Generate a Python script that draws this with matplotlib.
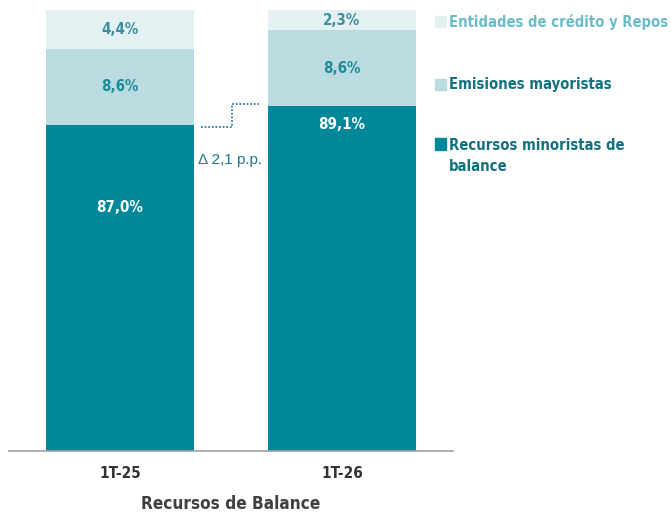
import matplotlib
matplotlib.use("Agg")
import matplotlib.pyplot as plt

# Datos
periodos = ["1T-25", "1T-26"]
minoristas = [87.0, 89.1]
emisiones = [8.6, 8.6]
entidades = [4.4, 2.3]
series_nombres = ["Entidades de crédito y Repos", "Emisiones mayoristas",
                  "Recursos minoristas de\nbalance"]
delta_txt = "\u0394 2,1 p.p."

COR_OSCURO = "#008898"
COR_MEDIO = "#BADCE0"
COR_CLARO = "#E4F1F3"
TXT_OSCURO = "#13717F"
TXT_CLARO = "#6DBCC6"

plt.rcParams["font.family"] = ["DejaVu Sans"]
plt.rcParams["font.stretch"] = "condensed"

fig = plt.figure(figsize=(6.71, 5.14), dpi=100)
ax = fig.add_axes([9 / 671, 63 / 514, 444 / 671, 441 / 514])

x = list(range(len(periodos)))
ancho = 0.667
base2 = [a + b for a, b in zip(minoristas, emisiones)]
ax.bar(x, minoristas, ancho, color=COR_OSCURO)
ax.bar(x, emisiones, ancho, bottom=minoristas, color=COR_MEDIO)
ax.bar(x, entidades, ancho, bottom=base2, color=COR_CLARO)

# eje truncado como en el original
ax.set_ylim(50, 100)
ax.set_xlim(-0.5, 1.5)

def pct(v):
    return f"{v:.1f}%".replace(".", ",")

pos_min = [77.6, 87.0]
for i in x:
    ax.text(i, pos_min[i], pct(minoristas[i]), ha="center", va="center",
            color="white", fontsize=10.8, fontweight="bold")
    ax.text(i, minoristas[i] + emisiones[i] / 2, pct(emisiones[i]), ha="center",
            va="center", color="#1A8C9A", fontsize=10.8, fontweight="bold")
    ax.text(i, base2[i] + entidades[i] / 2, pct(entidades[i]), ha="center",
            va="center", color="#3E8E9C", fontsize=10.8, fontweight="bold")

# Linea de delta
xa = ancho / 2 + 0.03
xb = 1 - ancho / 2 - 0.04
xm = (xa + xb) / 2 + 0.01
ax.plot([xa, xm, xm, xb], [minoristas[0] - 0.25, minoristas[0] - 0.25,
                           minoristas[1] + 0.25, minoristas[1] + 0.25],
        color="#2F7F8C", linestyle=(0, (1, 1)), linewidth=1.3)
ax.text(0.495, 83.0, delta_txt, ha="center", va="center", color="#1A7C8A",
        fontsize=11, family=["Liberation Sans", "DejaVu Sans"], fontstretch="normal")

for s in ["top", "right", "left"]:
    ax.spines[s].set_visible(False)
ax.spines["bottom"].set_color("#A0A0A0")
ax.spines["bottom"].set_linewidth(1.2)
ax.set_yticks([])
ax.set_xticks(x)
ax.set_xticklabels(periodos, fontsize=11, fontweight="bold", color="#333333")
ax.tick_params(axis="x", length=0, pad=11)
ax.set_xlabel("Recursos de Balance", fontsize=12.3, fontweight="bold",
              color="#404040", labelpad=10)

# Leyenda manual
leyenda = [(COR_CLARO, TXT_CLARO, 22, 22), (COR_MEDIO, TXT_OSCURO, 85, 85),
           (COR_OSCURO, TXT_OSCURO, 144, 156)]
for (c, tc, ycuad, ytxt), nombre in zip(leyenda, series_nombres):
    yf = 1 - ycuad / 514
    fig.patches.append(plt.Rectangle((435 / 671, yf - 5.5 / 514), 11 / 671, 11 / 514,
                                     transform=fig.transFigure, color=c))
    fig.text(449 / 671, 1 - ytxt / 514, nombre, ha="left", va="center", color=tc,
             fontsize=10.6, fontweight="bold", linespacing=1.5)

fig.savefig("out.png", dpi=100, facecolor="white")
